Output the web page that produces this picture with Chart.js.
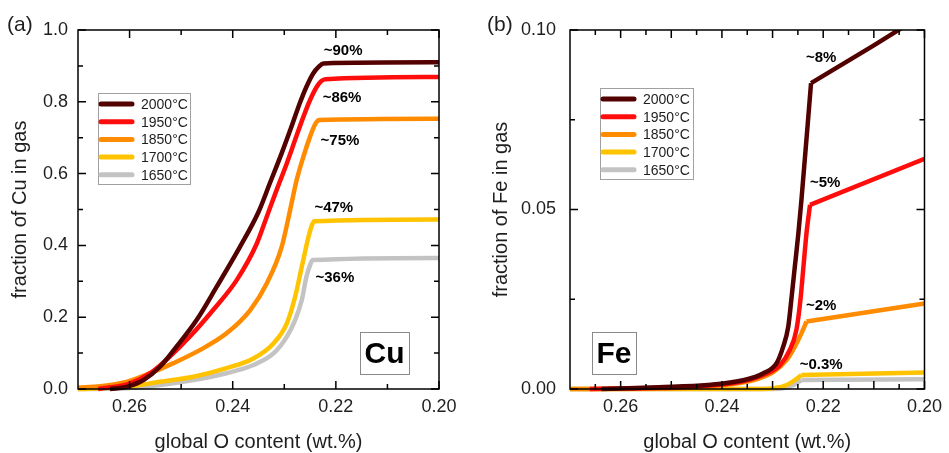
<!DOCTYPE html>
<html><head><meta charset="utf-8">
<script src="https://cdn.jsdelivr.net/npm/chart.js@4/dist/chart.umd.min.js"></script>
<style>
html,body{margin:0;padding:0;background:#fff;}
#wrap{position:relative;width:949px;height:453px;overflow:hidden;background:#fff;}
canvas{position:absolute;top:0;}
#ca{left:0;}
#cb{left:475px;}
</style></head><body>
<div id="wrap"><canvas id="ca" width="475" height="453"></canvas><canvas id="cb" width="474" height="453"></canvas></div>
<script>
// ---------- series ----------
const seriesLabels = ['2000°C', '1950°C', '1850°C', '1700°C', '1650°C'];
const seriesColors = ['#520000', '#ff0d0d', '#ff8c00', '#ffc300', '#c3c3c3'];

// (a) Cu fraction in gas vs global O content
const cuX2000 = [0.2638, 0.2606, 0.2573, 0.2541, 0.2509, 0.2470, 0.2431, 0.2386, 0.2350, 0.2328, 0.2305, 0.2286, 0.2270, 0.2257, 0.2244, 0.2233, 0.2224, 0.2000];
const cuY2000 = [0.000, 0.006, 0.025, 0.062, 0.118, 0.192, 0.285, 0.396, 0.493, 0.573, 0.657, 0.731, 0.796, 0.842, 0.879, 0.898, 0.907, 0.910];
const cuX1950 = [0.2661, 0.2599, 0.2560, 0.2522, 0.2483, 0.2438, 0.2392, 0.2353, 0.2334, 0.2315, 0.2295, 0.2279, 0.2263, 0.2250, 0.2237, 0.2228, 0.2220, 0.2000];
const cuY1950 = [0.000, 0.016, 0.044, 0.090, 0.146, 0.220, 0.304, 0.406, 0.480, 0.554, 0.629, 0.694, 0.758, 0.805, 0.842, 0.858, 0.863, 0.869];
const cuX1850 = [0.2700, 0.2657, 0.2606, 0.2560, 0.2515, 0.2463, 0.2412, 0.2366, 0.2334, 0.2305, 0.2288, 0.2276, 0.2263, 0.2250, 0.2240, 0.2232, 0.2000];
const cuY1850 = [0.004, 0.008, 0.020, 0.044, 0.072, 0.109, 0.155, 0.220, 0.294, 0.396, 0.503, 0.582, 0.647, 0.703, 0.738, 0.749, 0.753];
const cuX1700 = [0.2700, 0.2606, 0.2541, 0.2476, 0.2412, 0.2360, 0.2321, 0.2295, 0.2279, 0.2266, 0.2253, 0.2246, 0.2242, 0.2000];
const cuY1700 = [0.000, 0.006, 0.020, 0.034, 0.058, 0.085, 0.127, 0.183, 0.257, 0.341, 0.424, 0.458, 0.467, 0.472];
const cuX1650 = [0.2700, 0.2606, 0.2541, 0.2476, 0.2412, 0.2360, 0.2321, 0.2295, 0.2279, 0.2266, 0.2257, 0.2250, 0.2245, 0.2000];
const cuY1650 = [0.000, 0.002, 0.011, 0.025, 0.044, 0.067, 0.099, 0.146, 0.192, 0.248, 0.313, 0.345, 0.359, 0.365];

// (b) Fe fraction in gas vs global O content
const feX2000 = [0.2638, 0.2525, 0.2428, 0.2356, 0.2318, 0.2292, 0.2279, 0.2269, 0.2263, 0.2256, 0.2249, 0.2243, 0.2224, 0.2100, 0.2040];
const feY2000 = [0.0000, 0.0005, 0.0011, 0.0025, 0.0044, 0.0072, 0.0118, 0.0174, 0.0248, 0.0341, 0.0434, 0.0526, 0.0852, 0.0957, 0.1010];
const feX1950 = [0.2661, 0.2460, 0.2363, 0.2318, 0.2285, 0.2266, 0.2253, 0.2245, 0.2239, 0.2233, 0.2226, 0.2000];
const feY1950 = [0.0000, 0.0006, 0.0020, 0.0039, 0.0067, 0.0109, 0.0164, 0.0248, 0.0341, 0.0434, 0.0513, 0.0641];
const feX1850 = [0.2700, 0.2493, 0.2395, 0.2337, 0.2298, 0.2272, 0.2256, 0.2243, 0.2233, 0.2000];
const feY1850 = [0.0000, 0.0002, 0.0011, 0.0025, 0.0048, 0.0081, 0.0118, 0.0155, 0.0188, 0.0238];
const feX1700 = [0.2700, 0.2320, 0.2298, 0.2272, 0.2256, 0.2243, 0.2000];
const feY1700 = [0.0000, 0.0000, 0.0002, 0.0011, 0.0025, 0.0039, 0.0046];
const feX1650 = [0.2700, 0.2300, 0.2279, 0.2259, 0.2243, 0.2000];
const feY1650 = [0.0000, 0.0000, 0.0002, 0.0011, 0.0025, 0.0027];
// index of the sharp knee in each Fe series (curve before, straight line after)
const feKnee = [12, 10, 8, 5, 4];

// ---------- ticks ----------
const xTickValues = [0.26, 0.24, 0.22, 0.20];
const xTickLabels = ['0.26', '0.24', '0.22', '0.20'];
const xMajorA = [0.26, 0.24, 0.22, 0.20];
const xMinorA = [0.25, 0.23, 0.21];
const xMajorB = [0.26, 0.25, 0.24, 0.23, 0.22, 0.21, 0.20];
const xMinorB = [0.265, 0.255, 0.245, 0.235, 0.225, 0.215, 0.205];
const yTickValuesA = [0, 0.2, 0.4, 0.6, 0.8, 1.0];
const yTickLabelsA = ['0.0', '0.2', '0.4', '0.6', '0.8', '1.0'];
const yMinorA = [0.1, 0.3, 0.5, 0.7, 0.9];
const yTickValuesB = [0, 0.05, 0.10];
const yTickLabelsB = ['0.00', '0.05', '0.10'];
const yMinorB = [0.025, 0.075];

// ---------- annotations ----------
const annTextA = ['~90%', '~86%', '~75%', '~47%', '~36%'];
const annXA = [0.2186, 0.2188, 0.2192, 0.2204, 0.2202];
const annYA = [0.941, 0.812, 0.691, 0.504, 0.309];
const annTextB = ['~8%', '~5%', '~2%', '~0.3%'];
const annXB = [0.2204, 0.2196, 0.2204, 0.2204];
const annYB = [0.0923, 0.0575, 0.0231, 0.0068];

const FONT = "'Liberation Sans', Arial, Helvetica, sans-serif";
const TXT = '#1e1e1e';

function baseSet(i, pts, mono, inLegend) {
  return {
    label: seriesLabels[i],
    inLegend: inLegend,
    order: i,
    data: pts,
    borderColor: seriesColors[i],
    backgroundColor: seriesColors[i],
    borderWidth: 4.5,
    pointRadius: 0,
    fill: false,
    tension: 0,
    cubicInterpolationMode: mono ? 'monotone' : 'default',
    borderJoinStyle: 'round',
    clip: { left: 0, top: 0, right: 0, bottom: 5 }
  };
}

function makeSets(xs, ys, knees) {
  const out = [];
  xs.forEach((xa, i) => {
    const pts = xa.map((x, k) => ({ x: x, y: ys[i][k] }));
    if (knees) {
      out.push(baseSet(i, pts.slice(0, knees[i] + 1), true, true));
      out.push(baseSet(i, pts.slice(knees[i]), false, false));
    } else {
      out.push(baseSet(i, pts, true, true));
    }
  });
  return out;
}

function decor(cfg) {
  return {
    id: 'decor' + cfg.tag,
    afterDatasetsDraw(chart) {
      const { ctx, chartArea: a, scales } = chart;
      const sx = scales.x, sy = scales.y;
      ctx.save();
      // frame
      ctx.strokeStyle = '#000';
      ctx.lineWidth = 1.5;
      ctx.strokeRect(a.left, a.top, a.right - a.left, a.bottom - a.top);
      // inward ticks on all sides
      const xt = (vals, len) => vals.forEach(v => {
        const p = sx.getPixelForValue(v);
        ctx.beginPath();
        ctx.moveTo(p, a.bottom); ctx.lineTo(p, a.bottom - len);
        ctx.moveTo(p, a.top); ctx.lineTo(p, a.top + len);
        ctx.stroke();
      });
      const yt = (vals, len) => vals.forEach(v => {
        const p = sy.getPixelForValue(v);
        ctx.beginPath();
        ctx.moveTo(a.left, p); ctx.lineTo(a.left + len, p);
        ctx.moveTo(a.right, p); ctx.lineTo(a.right - len, p);
        ctx.stroke();
      });
      xt(cfg.xMajor, 8); xt(cfg.xMinor, 5);
      yt(cfg.yMajor, 8); yt(cfg.yMinor, 5);
      // annotations
      ctx.fillStyle = '#000';
      ctx.font = 'bold 15px ' + FONT;
      ctx.textAlign = 'center';
      ctx.textBaseline = 'middle';
      cfg.annText.forEach((t, i) => {
        ctx.fillText(t, sx.getPixelForValue(cfg.annX[i]), sy.getPixelForValue(cfg.annY[i]));
      });
      // legend
      const lg = cfg.legend;
      const bx = a.left + lg.dx, by = a.top + lg.dy;
      ctx.fillStyle = '#fff';
      ctx.fillRect(bx, by, lg.w, lg.h);
      ctx.strokeStyle = '#a0a0a0';
      ctx.lineWidth = 1;
      ctx.strokeRect(bx + 0.5, by + 0.5, lg.w, lg.h);
      chart.data.datasets.filter(d => d.inLegend).forEach((d, i) => {
        const ry = by + lg.first + i * 17.7;
        ctx.strokeStyle = d.borderColor;
        ctx.lineWidth = 5;
        ctx.lineCap = 'round';
        ctx.beginPath();
        ctx.moveTo(bx + 3, ry); ctx.lineTo(bx + 34, ry);
        ctx.stroke();
        ctx.fillStyle = TXT;
        ctx.font = '14px ' + FONT;
        ctx.textAlign = 'left';
        ctx.textBaseline = 'middle';
        ctx.fillText(d.label, bx + lg.tx, ry + 1);
      });
      ctx.lineCap = 'butt';
      // element box
      const el = cfg.elem;
      const ex = el.fromRight ? a.right - el.off - el.w : a.left + el.off;
      const ey = a.bottom - el.bottom - el.h;
      ctx.strokeStyle = '#8a8a8a';
      ctx.lineWidth = 1;
      ctx.strokeRect(Math.round(ex) + 0.5, Math.round(ey) + 0.5, el.w, el.h);
      ctx.fillStyle = '#000';
      ctx.font = 'bold 30px ' + FONT;
      ctx.textAlign = 'center';
      ctx.textBaseline = 'middle';
      ctx.fillText(el.text, ex + el.w / 2, ey + el.h / 2 + 2);
      // panel label
      ctx.fillStyle = TXT;
      ctx.font = '21px ' + FONT;
      ctx.textAlign = 'left';
      ctx.textBaseline = 'alphabetic';
      ctx.fillText(cfg.panel, cfg.panelX, 31);
      ctx.restore();
    }
  };
}

function makeChart(id, cfg) {
  return new Chart(document.getElementById(id), {
    type: 'line',
    data: { datasets: makeSets(cfg.xs, cfg.ys, cfg.knees) },
    options: {
      responsive: false,
      animation: false,
      devicePixelRatio: 1,
      layout: { padding: { top: 30, right: cfg.padRight, left: 0, bottom: 0 } },
      plugins: { legend: { display: false }, tooltip: { enabled: false } },
      scales: {
        x: {
          type: 'linear', reverse: true, min: 0.20, max: 0.27,
          afterBuildTicks: s => { s.ticks = xTickValues.map(v => ({ value: v })); },
          afterFit: s => { s.height = 64; },
          ticks: { callback: (v, i) => xTickLabels[i], font: { family: FONT, size: 18 }, color: TXT, padding: 7, maxRotation: 0, autoSkip: false },
          grid: { display: false, drawTicks: false },
          border: { display: false },
          title: { display: true, text: 'global O content (wt.%)', font: { family: FONT, size: 20 }, color: TXT, padding: { top: 0, bottom: -1 } }
        },
        y: {
          type: 'linear', min: cfg.yMin, max: cfg.yMax,
          afterBuildTicks: s => { s.ticks = cfg.yVals.map(v => ({ value: v })); },
          afterFit: s => { s.width = cfg.yWidth; },
          ticks: { callback: (v, i) => cfg.yLabels[i], font: { family: FONT, size: 18 }, color: TXT, padding: cfg.yPad, autoSkip: false },
          grid: { display: false, drawTicks: false },
          border: { display: false },
          title: { display: true, text: cfg.yTitle, font: { family: FONT, size: 20 }, color: TXT, padding: { top: cfg.yTitlePad, bottom: 0 } }
        }
      }
    },
    plugins: [decor(cfg)]
  });
}

makeChart('ca', {
  tag: 'a', knees: null,
  xs: [cuX2000, cuX1950, cuX1850, cuX1700, cuX1650],
  ys: [cuY2000, cuY1950, cuY1850, cuY1700, cuY1650],
  padRight: 36, yWidth: 78, yPad: 10, yTitlePad: 8,
  yMin: 0, yMax: 1.0, yVals: yTickValuesA, yLabels: yTickLabelsA,
  yTitle: 'fraction of Cu in gas',
  xMajor: xMajorA, xMinor: xMinorA, yMajor: yTickValuesA, yMinor: yMinorA,
  annText: annTextA, annX: annXA, annY: annYA,
  legend: { dx: 20, dy: 63, w: 92, h: 91, first: 11, tx: 43 },
  elem: { text: 'Cu', fromRight: true, off: 30, bottom: 15, w: 49, h: 42 },
  panel: '(a)', panelX: 7
});

makeChart('cb', {
  tag: 'b', knees: feKnee,
  xs: [feX2000, feX1950, feX1850, feX1700, feX1650],
  ys: [feY2000, feY1950, feY1850, feY1700, feY1650],
  padRight: 19, yWidth: 95, yPad: 14, yTitlePad: 14.5,
  yMin: 0, yMax: 0.10, yVals: yTickValuesB, yLabels: yTickLabelsB,
  yTitle: 'fraction of Fe in gas',
  xMajor: xMajorB, xMinor: xMinorB, yMajor: yTickValuesB, yMinor: yMinorB,
  annText: annTextB, annX: annXB, annY: annYB,
  legend: { dx: 30, dy: 58, w: 93, h: 91, first: 11, tx: 43 },
  elem: { text: 'Fe', fromRight: false, off: 22, bottom: 15, w: 44, h: 42 },
  panel: '(b)', panelX: 12
});
</script>
</body></html>
